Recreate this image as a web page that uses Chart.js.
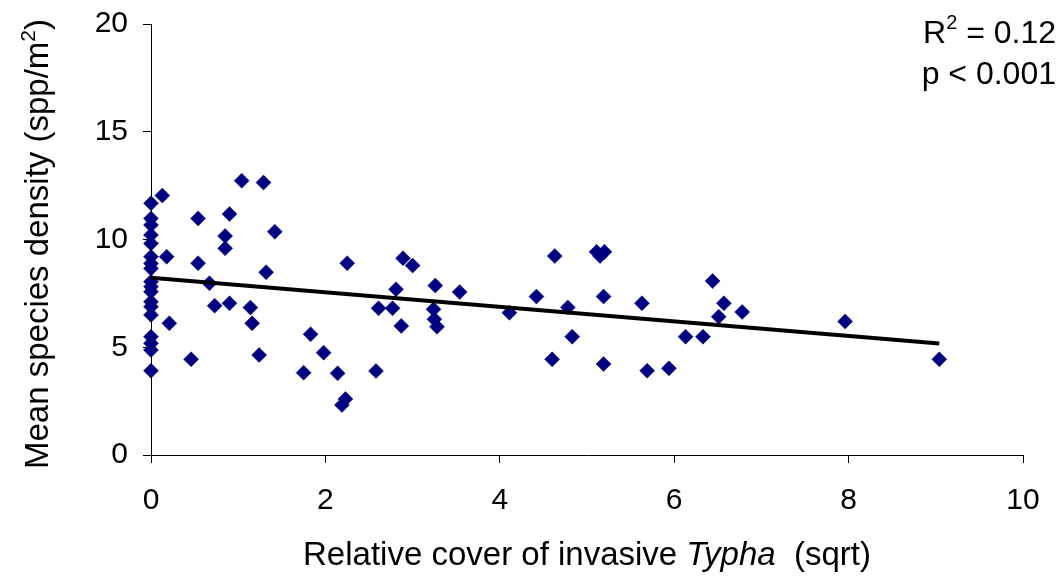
<!DOCTYPE html>
<html>
<head>
<meta charset="utf-8">
<script src="https://cdn.jsdelivr.net/npm/chart.js@4/dist/chart.umd.min.js"></script>
<style>
  html, body { margin: 0; padding: 0; background: #ffffff; }
  #wrap { width: 1064px; height: 578px; }
</style>
</head>
<body>
<div id="wrap"><canvas id="c" width="1064" height="578"></canvas></div>
<script>
// Relative cover of invasive Typha (sqrt) for each plot
const coverSqrt = [
  0, 0, 0, 0, 0, 0, 0, 0, 0, 0, 0, 0, 0, 0, 0, 0, 0, 0,
  0.13, 0.18, 0.21, 0.46, 0.54, 0.54, 0.67, 0.73, 0.85, 0.85, 0.90, 0.90,
  1.04, 1.29, 1.14, 1.16, 1.42, 1.32, 1.24, 1.75, 1.83, 1.98,
  2.25, 2.89, 3.00, 2.81, 3.26, 3.54, 2.61, 2.77, 2.87, 3.24, 3.25, 3.28,
  2.14, 2.58, 2.23, 2.19,
  4.11, 4.42, 4.63, 4.78, 4.83, 4.60, 5.11, 5.15, 5.20, 5.19, 5.19,
  5.63, 5.69, 5.94, 6.13, 6.33, 6.44, 6.57, 6.51, 6.78, 7.96, 9.04
];
// Mean species density (spp/m2) for the same plots
const speciesDensity = [
  11.68, 10.98, 10.67, 10.21, 9.82, 9.20, 8.89, 8.66, 8.04, 7.81, 7.58, 7.11, 6.88, 6.50, 5.49, 5.18, 4.87, 3.91,
  12.04, 9.20, 6.11, 4.44, 10.98, 8.90, 7.97, 6.93, 10.16, 9.59, 11.18, 7.04,
  12.73, 12.64, 6.84, 6.11, 10.36, 8.48, 4.64, 3.82, 5.60, 4.75,
  8.90, 9.13, 8.79, 7.69, 7.86, 7.56, 6.81, 6.81, 5.99, 6.76, 6.30, 5.95,
  3.79, 3.90, 2.60, 2.32,
  6.60, 7.35, 9.23, 6.85, 5.49, 4.44, 9.43, 9.23, 9.43, 7.35, 4.22,
  7.04, 3.91, 4.02, 5.49, 5.49, 8.07, 7.04, 6.42, 6.64, 6.20, 4.44
];
// Fitted regression line end points
const fitX = [0, 9.04];
const fitY = [8.22, 5.17];
// Axis ticks
const xTicks = [0, 2, 4, 6, 8, 10];
const yTicks = [0, 5, 10, 15, 20];
// Statistics annotation
const rSquared = '0.12';
const pText = 'p < 0.001';

const FONT = '"Liberation Sans", Arial, sans-serif';

const points = coverSqrt.map((x, i) => ({ x: x, y: speciesDensity[i] }));
const fitLine = fitX.map((x, i) => ({ x: x, y: fitY[i] }));

const textPlugin = {
  id: 'chartText',
  afterDraw(chart) {
    const ctx = chart.ctx;
    const area = chart.chartArea;
    ctx.save();
    ctx.fillStyle = '#000';
    ctx.textBaseline = 'alphabetic';

    // x axis title with italic genus name
    const xParts = [
      { t: 'Relative cover of invasive ', f: '33px ' + FONT },
      { t: 'Typha', f: 'italic 33px ' + FONT },
      { t: '  (sqrt)', f: '33px ' + FONT }
    ];
    let total = 0;
    xParts.forEach(p => { ctx.font = p.f; p.w = ctx.measureText(p.t).width; total += p.w; });
    let xx = (area.left + area.right) / 2 - total / 2;
    ctx.textAlign = 'left';
    xParts.forEach(p => { ctx.font = p.f; ctx.fillText(p.t, xx, 565); xx += p.w; });

    // y axis title, rotated, with superscript 2
    ctx.save();
    ctx.translate(48, 244);
    ctx.rotate(-Math.PI / 2);
    const main = 'Mean species density (spp/m';
    ctx.font = '33px ' + FONT;
    const wMain = ctx.measureText(main).width;
    ctx.font = '21px ' + FONT;
    const wSup = ctx.measureText('2').width;
    ctx.font = '33px ' + FONT;
    const wEnd = ctx.measureText(')').width;
    let sx = -(wMain + wSup + wEnd) / 2;
    ctx.textAlign = 'left';
    ctx.fillText(main, sx, 0);
    sx += wMain;
    ctx.font = '21px ' + FONT;
    ctx.fillText('2', sx, -13);
    sx += wSup;
    ctx.font = '33px ' + FONT;
    ctx.fillText(')', sx, 0);
    ctx.restore();

    // statistics, right aligned in the top corner
    const rightEdge = 1056;
    ctx.font = '32px ' + FONT;
    const rest = ' = ' + rSquared;
    const wRest = ctx.measureText(rest).width;
    ctx.font = '20px ' + FONT;
    const wS = ctx.measureText('2').width;
    ctx.font = '32px ' + FONT;
    const wR = ctx.measureText('R').width;
    let rx = rightEdge - wRest - wS - wR;
    ctx.textAlign = 'left';
    ctx.fillText('R', rx, 43);
    rx += wR;
    ctx.font = '20px ' + FONT;
    ctx.fillText('2', rx, 29);
    rx += wS;
    ctx.font = '32px ' + FONT;
    ctx.fillText(rest, rx, 43);
    ctx.textAlign = 'right';
    ctx.fillText(pText, rightEdge, 84);
    ctx.restore();
  }
};

new Chart(document.getElementById('c'), {
  type: 'scatter',
  data: {
    datasets: [
      {
        label: 'Plots',
        data: points,
        clip: false,
        pointStyle: 'rectRot',
        pointRadius: 7.5,
        pointBackgroundColor: '#000080',
        pointBorderColor: '#000080',
        pointBorderWidth: 0.5,
        order: 2
      },
      {
        label: 'Fit',
        type: 'line',
        data: fitLine,
        showLine: true,
        borderColor: '#000000',
        borderWidth: 4,
        pointRadius: 0,
        fill: false,
        order: 1
      }
    ]
  },
  options: {
    responsive: false,
    animation: false,
    devicePixelRatio: 1,
    layout: { padding: { top: 24, right: 41, left: 0, bottom: 0 } },
    plugins: {
      legend: { display: false },
      tooltip: { enabled: false }
    },
    scales: {
      x: {
        type: 'linear',
        min: 0,
        max: 10,
        afterBuildTicks(scale) { scale.ticks = xTicks.map(v => ({ value: v })); },
        afterFit(scale) { scale.height = 123; scale.paddingLeft = 0; scale.paddingRight = 0; },
        ticks: { color: '#000', font: { family: FONT, size: 30 }, padding: 20, maxRotation: 0 },
        grid: { drawOnChartArea: false, drawTicks: true, tickLength: 8, color: '#000', lineWidth: 1 },
        border: { display: true, color: '#000', width: 1 }
      },
      y: {
        type: 'linear',
        min: 0,
        max: 20,
        afterBuildTicks(scale) { scale.ticks = yTicks.map(v => ({ value: v })); },
        afterFit(scale) { scale.width = 151; scale.paddingTop = 0; scale.paddingBottom = 0; },
        ticks: { color: '#000', font: { family: FONT, size: 30 }, padding: 15 },
        grid: { drawOnChartArea: false, drawTicks: true, tickLength: 8, color: '#000', lineWidth: 1 },
        border: { display: true, color: '#000', width: 1 }
      }
    }
  },
  plugins: [textPlugin]
});
</script>
</body>
</html>
